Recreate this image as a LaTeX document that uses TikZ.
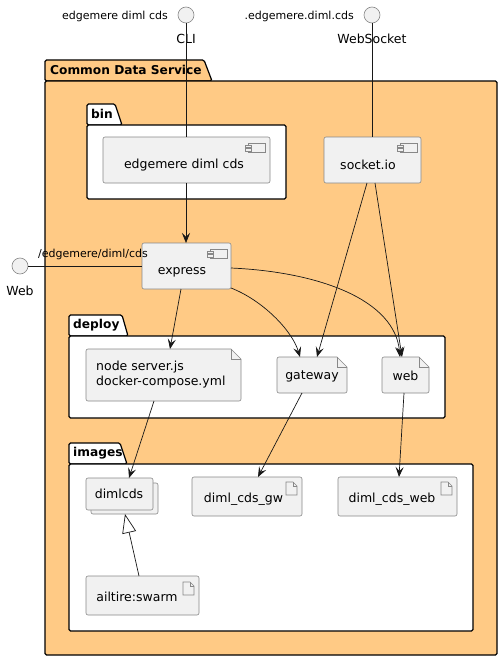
\documentclass[tikz,border=0pt]{standalone}
\usepackage{fontspec}
\setmainfont{DejaVu Sans}
\usetikzlibrary{arrows.meta}
\definecolor{pkgorange}{HTML}{FFCA85}
\definecolor{nodefill}{HTML}{F1F1F1}
\definecolor{nodeline}{HTML}{888888}
\definecolor{ink}{HTML}{181818}
\tikzset{
  txt/.style={font=\fontsize{12.5}{15}\selectfont, inner sep=0pt},
  smalltxt/.style={font=\fontsize{11}{13}\selectfont, inner sep=0pt},
  pkgtitle/.style={font=\bfseries\fontsize{12.2}{14}\selectfont, inner sep=0pt, anchor=west},
  pkgline/.style={draw=black, line width=1.2pt, rounded corners=1.5pt},
  nodebox/.style={draw=nodeline, fill=nodefill, line width=0.6pt, rounded corners=2pt},
  iface/.style={circle, draw=nodeline, fill=nodefill, line width=0.6pt, minimum size=16pt, inner sep=0pt},
  conn/.style={draw=ink, line width=0.7pt},
  arr/.style={conn, -{Stealth[length=10pt,width=8pt,inset=4pt]}},
  inh/.style={conn, -{Triangle[open,length=19pt,width=14pt,fill=white]}},
}
\newcommand{\compicon}[2]{%
  \draw[draw=nodeline, line width=0.6pt, fill=nodefill] (#1,#2) rectangle ++(17,9);
  \draw[draw=nodeline, line width=0.6pt, fill=nodefill] (#1-3,#2+2) rectangle ++(6,2.5);
  \draw[draw=nodeline, line width=0.6pt, fill=nodefill] (#1-3,#2+5.5) rectangle ++(6,2.5);
}
\newcommand{\articon}[2]{%
  \draw[draw=nodeline, line width=0.6pt, fill=nodefill] (#1,#2) -- ++(7,0) -- ++(4,4) -- ++(0,9) -- ++(-11,0) -- cycle;
  \draw[draw=nodeline, line width=0.6pt] (#1+7,#2) -- ++(0,4) -- ++(4,0);
}
\newcommand{\docshape}[4]{% x1 y1 x2 y2
  \fill[nodefill] (#3-10,#2) -- (#1,#2) -- (#1,#4) -- (#3,#4) -- (#3,#2+10) -- cycle;
  \draw[draw=nodeline, line width=0.6pt, rounded corners=2pt] (#3-10,#2) -- (#1,#2) -- (#1,#4) -- (#3,#4) -- (#3,#2+10);
  \draw[draw=nodeline, line width=0.6pt] (#3-10,#2) -- (#3,#2+10);
  \draw[draw=nodeline, line width=0.6pt] (#3-10,#2) -- (#3-10,#2+10) -- (#3,#2+10);
}
\begin{document}
\begin{tikzpicture}[x=1pt,y=-1pt]
\useasboundingbox (0,0) rectangle (503,661);

% Common Data Service package
\draw[pkgline, fill=pkgorange] (45,81) -- (45,60) -- (204,60) -- (212,81) -- cycle;
\draw[pkgline, fill=pkgorange] (45,81) rectangle (497,655);
\node[pkgtitle] (cdst) at (50,70) {Common Data Service};

% bin package
\draw[pkgline, fill=white] (87,125) -- (87,104) -- (115,104) -- (122,125) -- cycle;
\draw[pkgline, fill=white] (87,125) rectangle (286,199);
\node[pkgtitle] (bint) at (91,114) {bin};

% deploy package
\draw[pkgline, fill=white] (69,336) -- (69,315) -- (122,315) -- (128,336) -- cycle;
\draw[pkgline, fill=white] (69,336) rectangle (445,418);
\node[pkgtitle] (deployt) at (73,325) {deploy};

% images package
\draw[pkgline, fill=white] (69,464) -- (69,443) -- (120,443) -- (127,464) -- cycle;
\draw[pkgline, fill=white] (69,464) rectangle (473,631);
\node[pkgtitle] (imagest) at (73,453) {images};

% interfaces
\node[iface] (cli) at (186,15) {};
\node[smalltxt, anchor=east] (clil) at (168,16) {edgemere diml cds};
\node[txt] (clin) at (186,39) {CLI};
\node[iface] (ws) at (372,15) {};
\node[smalltxt, anchor=east] (wsl) at (354,16) {.edgemere.diml.cds};
\node[txt] (wsn) at (372,39) {WebSocket};
\node[iface] (web) at (20,266) {};
\node[txt] (webn) at (20,291) {Web};

% components
\draw[nodebox] (103,137) rectangle (270,183);
\node[txt] (edcl) at (184,165) {edgemere diml cds};
\compicon{248}{143}
\coordinate (edct) at (186,137);
\coordinate (edcb) at (186,183);

\draw[nodebox] (324,137) rectangle (421,183);
\node[txt] (sockl) at (368,165) {socket.io};
\compicon{400}{143}
\coordinate (sockb1) at (367,183);
\coordinate (sockb2) at (375,183);
\coordinate (sockt) at (372,137);

\draw[nodebox] (142,243) rectangle (231,289);
\node[txt] (expl) at (182,272) {express};
\compicon{210}{249}
\coordinate (expt) at (186,243);
\coordinate (expl0) at (142,266);
\coordinate (expb) at (181,289);
\coordinate (expr1) at (231,288);
\coordinate (expr2) at (231,268);

% deploy files
\docshape{86}{349}{241}{401}
\node[txt, anchor=west, align=left] (nodel) at (96,375) {node server.js\\docker-compose.yml};
\coordinate (nodet) at (170,349);
\coordinate (nodeb) at (154,401);

\docshape{277}{357}{347}{393}
\node[txt] (gwl) at (312,376) {gateway};
\coordinate (gwt1) at (300,357);
\coordinate (gwt2) at (317,357);
\coordinate (gwb) at (302,393);

\docshape{382}{357}{429}{393}
\node[txt] (webl) at (405.5,376) {web};
\coordinate (webt) at (400,357);
\coordinate (webt2) at (402,357);
\coordinate (webb) at (404,393);

% images
\draw[nodebox] (91,483) rectangle (158,514);
\draw[nodebox] (86,478) rectangle (153,510);
\node[txt] (diml) at (119,494) {dimlcds};
\coordinate (dimt) at (129,478);
\coordinate (dimb) at (125,514);

\draw[nodebox] (192,477) rectangle (302,516);
\node[txt] (gwimg) at (243.5,499) {diml\_cds\_gw};
\articon{286}{482}
\coordinate (gwimgt) at (258,477);

\draw[nodebox] (338,477) rectangle (457,516);
\node[txt] (webimg) at (392,499) {diml\_cds\_web};
\articon{441}{482}
\coordinate (webimgt) at (399,477);

\draw[nodebox] (86,576) rectangle (199,615);
\node[txt] (swarm) at (137,597) {ailtire:swarm};
\articon{183}{582}
\coordinate (swarmt) at (139,576);

% connectors
\draw[conn] (cli) -- (edct);
\draw[arr] (edcb) -- (expt);
\draw[conn] (ws) -- (sockt);
\draw[conn] (web) -- (expl0);
\node[smalltxt, anchor=west] (webpath) at (38,254) {/edgemere/diml/cds};

\draw[arr] (expb) -- (nodet);
\draw[arr] (expr1) .. controls (262,300) and (292,330) .. (gwt1);
\draw[arr] (expr2) .. controls (320,272) and (395,300) .. (webt);
\draw[arr] (sockb1) -- (gwt2);
\draw[arr] (sockb2) -- (webt2);
\draw[arr] (nodeb) -- (dimt);
\draw[arr] (gwb) -- (gwimgt);
\draw[arr] (webb) -- (webimgt);
\draw[inh] (swarmt) -- (dimb);
\end{tikzpicture}
\end{document}
